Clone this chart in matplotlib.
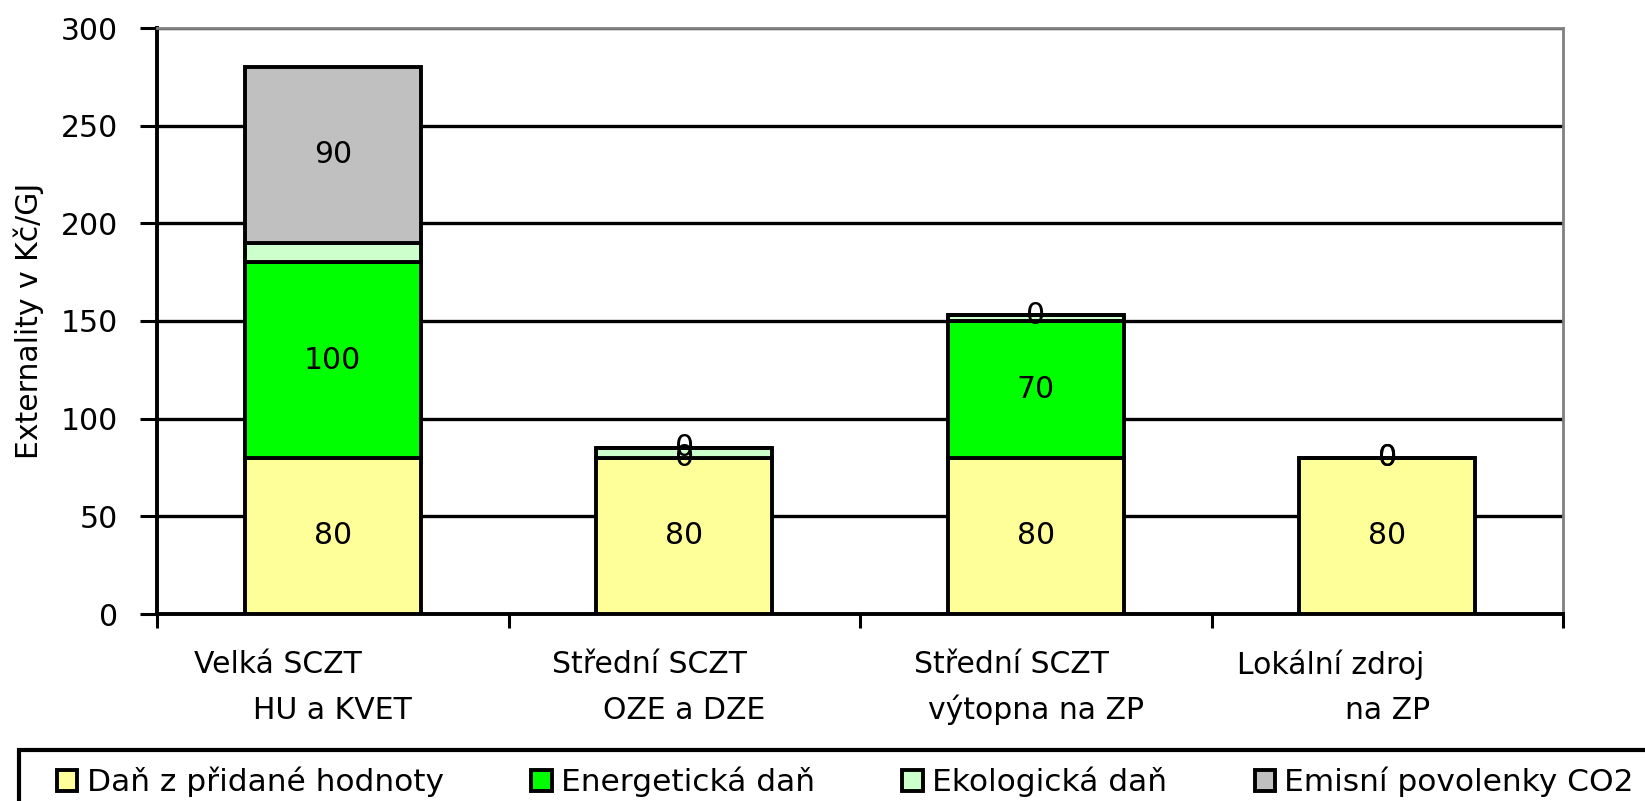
import numpy as np
import matplotlib
matplotlib.use('Agg')
import matplotlib.pyplot as plt
import matplotlib.transforms as mtransforms
from matplotlib.patches import Rectangle

# categories (two-line axis labels)
cat_line1 = ['Velká SCZT', 'Střední SCZT', 'Střední SCZT', 'Lokální zdroj']
cat_line2 = ['HU a KVET', 'OZE a DZE', 'výtopna na ZP', 'na ZP']

# stacked components, Kč/GJ
dph = [80, 80, 80, 80]
energ = [100, 0, 70, 0]
ekol = [10, 5, 3, 0]
emise = [90, 0, 0, 0]

series_names = ['Daň z přidané hodnoty', 'Energetická daň', 'Ekologická daň', 'Emisní povolenky CO2']
colors = ['#FFFF99', '#00FF00', '#CCFFCC', '#C0C0C0']
labelled = [True, True, False, True]

plt.rcParams['font.family'] = ['DejaVu Sans']
fs = 21.5

fig = plt.figure(figsize=(16.45, 8.01), dpi=100)
ax = fig.add_axes([157/1645, 1 - 614/801, (1563 - 157)/1645, (614 - 28)/801])

x = np.arange(len(cat_line1))
bottom = np.zeros(len(x))
handles = []
for vals, name, col, lab in zip([dph, energ, ekol, emise], series_names, colors, labelled):
    bars = ax.bar(x, vals, width=0.5, bottom=bottom, color=col, edgecolor='black',
                  linewidth=2.8, label=name, zorder=3)
    if lab:
        ax.bar_label(bars, labels=[str(v) for v in vals], label_type='center',
                     fontsize=fs, color='black', zorder=4)
    handles.append(bars)
    bottom += np.array(vals)

ax.set_xlim(-0.5, len(x) - 0.5)
ax.set_ylim(0, 300)
ax.set_yticks(np.arange(0, 301, 50))
ax.tick_params(axis='y', labelsize=fs, length=12, width=2.2, pad=16)
ax.yaxis.grid(True, color='black', linewidth=2.4, zorder=1)
ax.set_axisbelow(True)

# category boundaries as x ticks
ax.set_xticks(np.arange(-0.5, len(x), 1.0))
ax.set_xticklabels([])
ax.tick_params(axis='x', length=10, width=2.2, direction='out')

ax.spines['left'].set_linewidth(2.8)
ax.spines['bottom'].set_linewidth(2.8)
ax.spines['top'].set_color('#808080')
ax.spines['right'].set_color('#808080')
ax.spines['top'].set_linewidth(2)
ax.spines['right'].set_linewidth(2)

ax.set_ylabel('Externality v Kč/GJ', fontsize=fs, labelpad=12)

# two-line category labels
trans = mtransforms.blended_transform_factory(ax.transData, ax.transAxes)
shift1 = [-0.155, -0.10, -0.07, -0.16]
for i in range(len(x)):
    ax.text(x[i] + shift1[i], -0.087, cat_line1[i], transform=trans, ha='center',
            va='center', fontsize=fs)
    ax.text(x[i], -0.164, cat_line2[i], transform=trans, ha='center',
            va='center', fontsize=fs)

# legend box runs off the right and bottom edges
fig.patches.append(Rectangle((19/1645, -0.05), 1.0, 1 - 750/801 + 0.05,
                             transform=fig.transFigure, facecolor='white',
                             edgecolor='black', linewidth=3, zorder=0))
fig.legend(handles=handles, labels=series_names, loc='center left',
           bbox_to_anchor=(57/1645, 1 - 782/801), ncol=4, fontsize=22.5,
           frameon=False, handlelength=0.65, handleheight=0.65, handletextpad=0.3,
           columnspacing=2.8, borderpad=0, borderaxespad=0)

fig.savefig('out.png', dpi=100)
